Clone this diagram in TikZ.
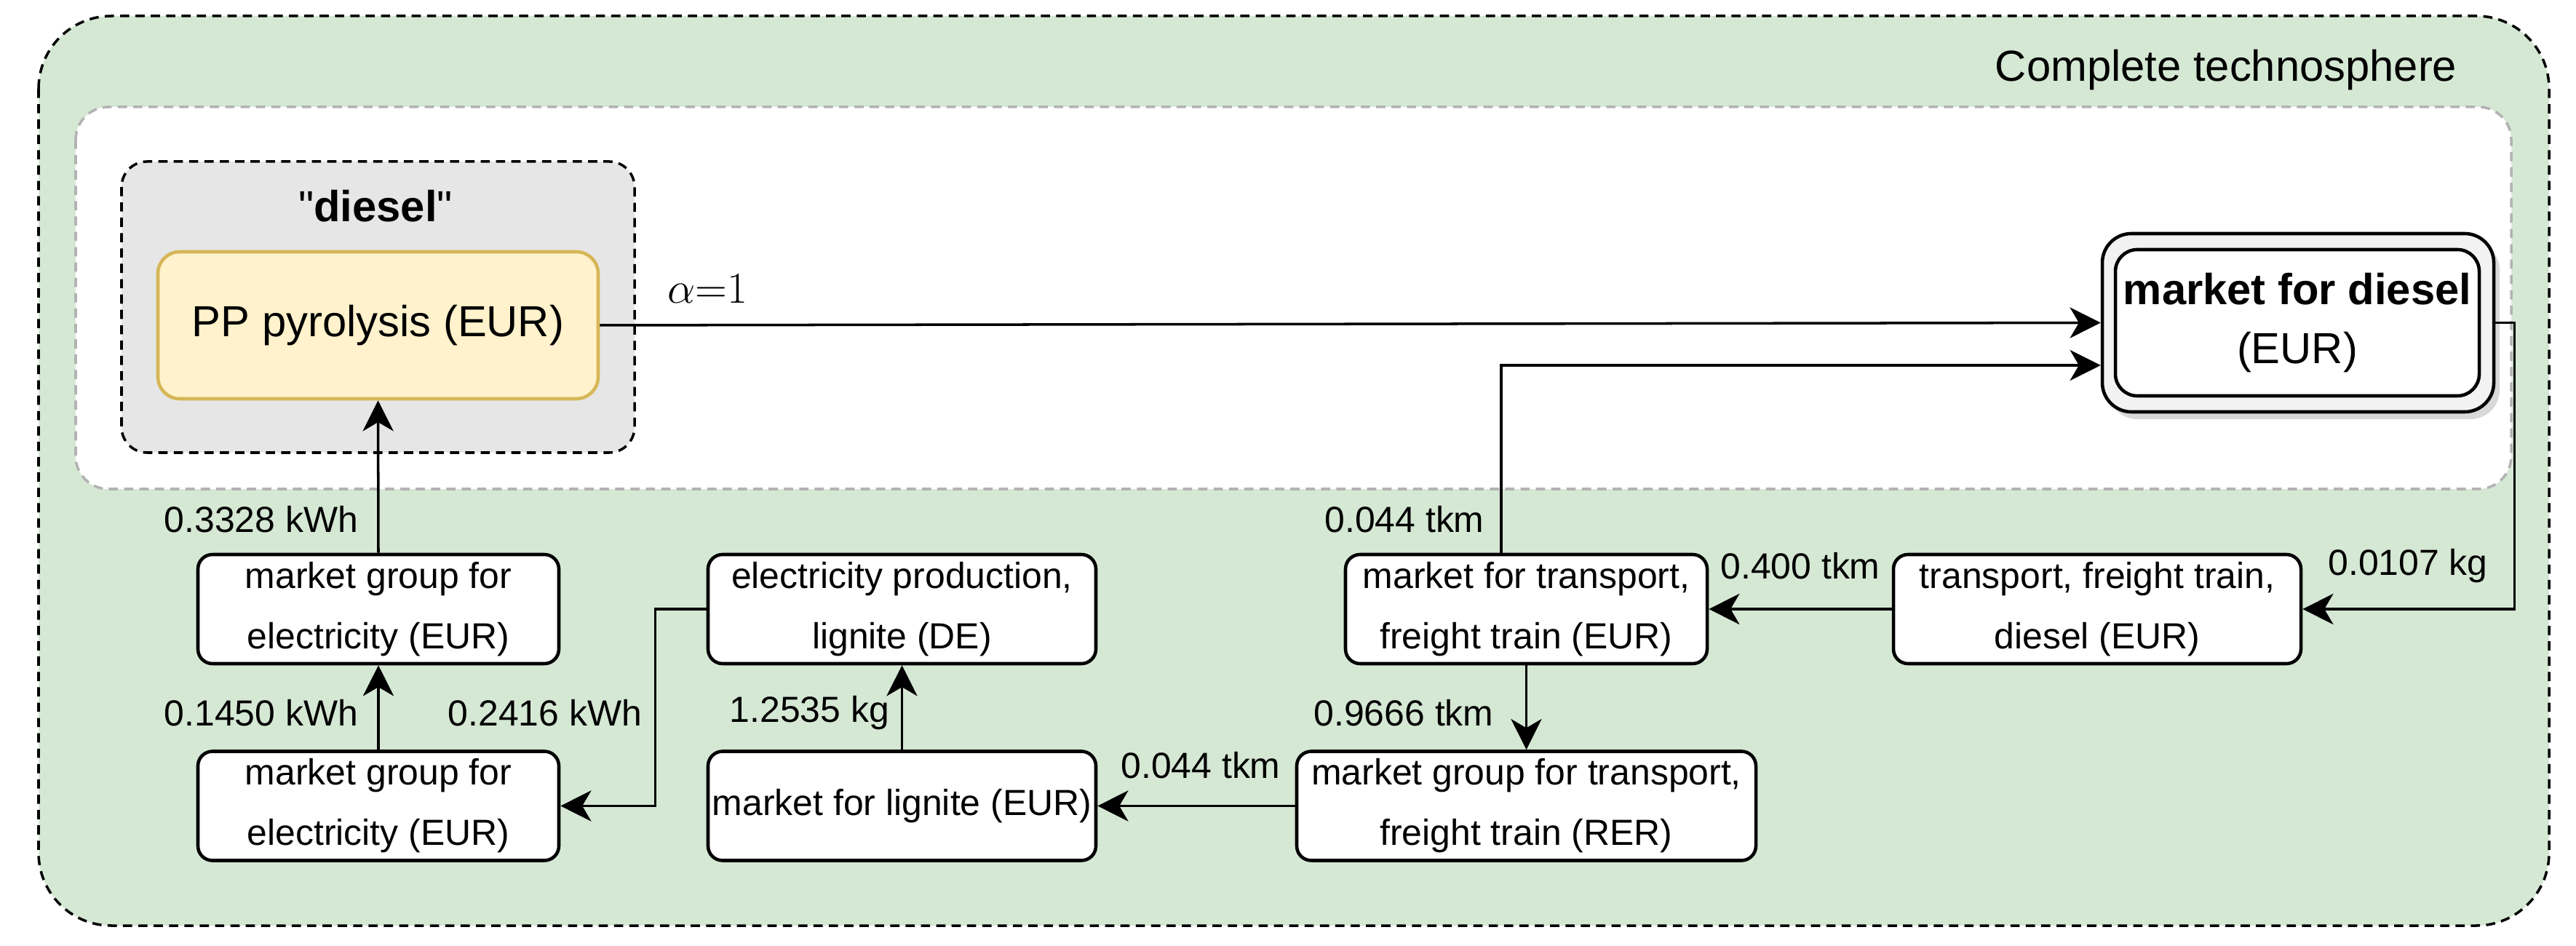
\documentclass[tikz,border=0pt]{standalone}
\usepackage{fontspec}
\setmainfont{Liberation Sans}[Ligatures=TeXOff]
\usetikzlibrary{arrows.meta,shadows}
\definecolor{techgreen}{HTML}{D5E8D4}
\definecolor{framegray}{HTML}{B3B3B3}
\definecolor{groupgray}{HTML}{E6E6E6}
\definecolor{ppfill}{HTML}{FFF2CC}
\definecolor{ppline}{HTML}{D6B656}
\newcommand{\boxfont}{\fontsize{14.2}{23.6}\selectfont}
\newcommand{\bigfont}{\fontsize{17}{23}\selectfont}

\begin{document}
\begin{tikzpicture}
  \tikzset{
    proc/.style={draw, rounded corners=0.2cm, line width=1.3pt, fill=white,
      align=center, minimum height=1.5cm, inner sep=0pt, font=\boxfont},
    flow/.style={-{Stealth[length=12pt,width=12pt,inset=3.5pt]}, line width=1pt},
    amount/.style={inner sep=0pt, font=\boxfont},
    frame/.style={line width=1pt, dash pattern=on 3.6pt off 2.4pt}
  }
  \useasboundingbox (0,0) rectangle (35.4,-13);
  \draw[frame, fill=techgreen, rounded corners=1cm] (0.53,-0.22) rectangle (35.03,-12.72);
  \draw[frame, draw=framegray, fill=white, rounded corners=0.45cm] (1.04,-1.47) rectangle (34.51,-6.72);
  \draw[frame, fill=groupgray, rounded corners=0.35cm] (1.67,-2.22) rectangle (8.72,-6.22);
  \node[anchor=east, inner sep=0pt, font=\bigfont] (techlabel) at (33.77,-0.96) {Complete technosphere};
  \node[inner sep=0pt, font=\bigfont] (grouplabel) at (5.16,-2.83) {"\textbf{diesel}"};

  \node[proc, draw=ppline, fill=ppfill, rounded corners=0.3cm, minimum width=6.05cm,
    minimum height=2.02cm, font=\bigfont] (pyrolysis) at (5.195,-4.47) {PP pyrolysis (EUR)};
  \node[draw, line width=1.3pt, fill=black!5, rounded corners=0.4cm, minimum width=5.38cm,
    minimum height=2.45cm, drop shadow={opacity=0.3, shadow xshift=0.08cm, shadow yshift=-0.1cm}]
    (dieselmkt) at (31.58,-4.435) {};
  \node[proc, rounded corners=0.3cm, minimum width=5cm, minimum height=2.01cm,
    font=\fontsize{17}{23}\selectfont] (dieselmktin) at (31.57,-4.435)
    {\textbf{market for diesel}\\(EUR)};

  \node[proc, minimum width=4.96cm] (elecgrpA) at (5.2,-8.37) {market group for\\electricity (EUR)};
  \node[proc, minimum width=4.96cm] (elecgrpB) at (5.2,-11.075) {market group for\\electricity (EUR)};
  \node[proc, minimum width=5.33cm] (lignitepp) at (12.395,-8.37) {electricity production,\\lignite (DE)};
  \node[proc, minimum width=5.33cm] (lignitemkt) at (12.395,-11.075) {market for lignite (EUR)};
  \node[proc, minimum width=4.97cm] (trainmkt) at (20.975,-8.37) {market for transport,\\freight train (EUR)};
  \node[proc, minimum width=6.31cm] (traingrp) at (20.975,-11.075) {market group for transport,\\freight train (RER)};
  \node[proc, minimum width=5.6cm] (traindiesel) at (28.82,-8.37) {transport, freight train,\\diesel (EUR)};

  \node[inner sep=0pt, font=\fontsize{16.5}{19}\selectfont] (alphalabel) at (9.72,-3.97) {$\alpha{=}1$};
  \node[amount] (amtA) at (3.59,-7.14) {0.3328 kWh};
  \node[amount] (amtB) at (3.59,-9.80) {0.1450 kWh};
  \node[amount] (amtC) at (7.49,-9.80) {0.2416 kWh};
  \node[amount, anchor=west] (amtD) at (10.02,-9.80) {1.2535 kg};
  \node[amount] (amtE) at (16.5,-10.52) {0.044 tkm};
  \node[amount] (amtF) at (19.3,-7.14) {0.044 tkm};
  \node[amount] (amtG) at (19.29,-9.80) {0.9666 tkm};
  \node[amount] (amtH) at (24.74,-7.78) {0.400 tkm};
  \node[amount] (amtI) at (33.09,-7.78) {0.0107 kg};

  \draw[flow] (pyrolysis.east) -- (dieselmkt.west);
  \draw[flow] ([xshift=-0.345cm]trainmkt.north) |- ([yshift=-0.585cm]dieselmkt.west);
  \draw[flow] (elecgrpA.north) -- (pyrolysis.south);
  \draw[flow] (elecgrpB.north) -- (elecgrpA.south);
  \draw[flow] (lignitepp.west) -- ++(-0.7,0) |- (elecgrpB.east);
  \draw[flow] (lignitemkt.north) -- (lignitepp.south);
  \draw[flow] (traingrp.west) -- (lignitemkt.east);
  \draw[flow] (trainmkt.south) -- (traingrp.north);
  \draw[flow] (traindiesel.west) -- (trainmkt.east);
  \draw[flow] (dieselmkt.east) -- ++(0.26,0) |- (traindiesel.east);
\end{tikzpicture}
\end{document}
